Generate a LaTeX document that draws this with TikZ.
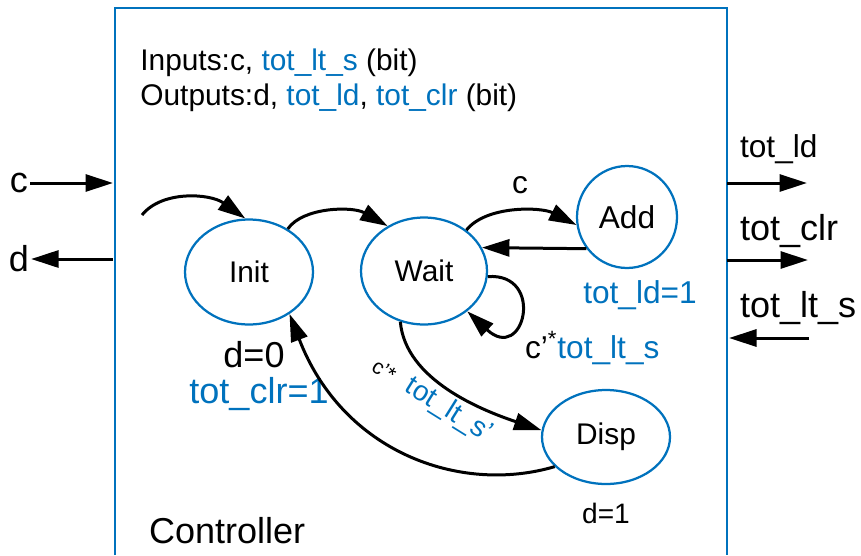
\documentclass[tikz,border=0pt]{standalone}
\usepackage{xcolor}
\usepackage{fontspec}
\setmainfont{Liberation Sans}
\usepackage{tikz}
\usetikzlibrary{shapes.geometric, positioning, arrows.meta}
\definecolor{fsmblue}{RGB}{0,114,189}

\begin{document}
\begin{tikzpicture}[
    x=0.02cm, y=-0.02cm,
    % Define the style for the states
    state/.style={
        ellipse,
        draw=fsmblue,
        line width=0.045cm,
        inner sep=0pt,
        font=\fontsize{17}{20}\selectfont
    },
    % Define style for arrows
    arrow/.style={
        -{Triangle[length=0.55cm, width=0.34cm]},
        line width=0.06cm,
        black
    },
    % Text sizes
    small/.style={font=\fontsize{16}{19}\selectfont, inner sep=1pt},
    note/.style={font=\fontsize{17}{20}\selectfont, inner sep=0pt},
    mid/.style={font=\fontsize{18}{21}\selectfont, inner sep=1pt},
    big/.style={font=\fontsize{20.5}{24}\selectfont, inner sep=1pt},
    frame/.style={draw=fsmblue, line width=0.04cm}
]
\useasboundingbox (0,0) rectangle (861,555);

% Controller frame, open at the bottom
\draw [frame] (115,555) |- (727,8) -- (727,555);

% Signal declarations
\node (inputs) [note, anchor=base west] at (140,70) {Inputs:c, \textcolor{fsmblue}{tot\_lt\_s} (bit)};
\node (outputs) [note, anchor=base west] at (140,105) {Outputs:d, \textcolor{fsmblue}{tot\_ld}, \textcolor{fsmblue}{tot\_clr} (bit)};

% 1. States
\node (init) [state, minimum width=2.56cm, minimum height=2.1cm] at (249,272) {Init};
\node (wait) [state, minimum width=2.52cm, minimum height=2.14cm] at (424,271) {Wait};
\node (add) [state, minimum width=2cm, minimum height=2.04cm, font=\fontsize{18}{21}\selectfont] at (627,217) {Add};
\node (disp) [state, minimum width=2.56cm, minimum height=1.88cm] at (606,437) {Disp};

% 2. State outputs
\node (init_d) [big, anchor=base] at (254,367) {d=0};
\node (init_clr) [big, text=fsmblue, anchor=base] at (259,403) {tot\_clr=1};
\node (add_ld) [mid, text=fsmblue, anchor=base] at (640,303) {tot\_ld=1};
\node (disp_d) [small, anchor=base] at (606,523) {d=1};
\node (title) [big, anchor=base west] at (147,543) {Controller};

% 3. Transitions
\coordinate (entry) at (142,215);
\draw [arrow] (entry) .. controls +(20,-25) and +(-35,-25) .. (init.94);
\draw [arrow] (init.48) .. controls +(15,-22) and +(-35,-20) .. (wait.129);
\draw [arrow] (wait.44) .. controls +(20,-25) and +(-35,-18) .. (add.189);
\draw [arrow] (add.218) -- (wait.22);
\draw [arrow] (wait.355) .. controls +(58,-4) and +(57,53) .. (wait.317);
\draw [arrow] (wait.245) .. controls +(5,58) and +(-60,-20) .. (disp.174);
\draw [arrow] (disp.210) .. controls +(-95,28) and +(53,138) .. (init.314);

% Transition conditions
\node (cond_c) [mid] at (520,185) {c};
\node (cond_stay) [mid, anchor=base west] at (523,358) {c’\textsuperscript{*}\textcolor{fsmblue}{tot\_lt\_s}};
\node (cond_disp) [small, rotate=-32] at (432,400) {{\fontsize{12}{14}\selectfont c’*}\ \ \textcolor{fsmblue}{tot\_lt\_s’}};

% 4. Ports on the left
\coordinate (c_port) at (113,183);
\coordinate (d_port) at (113,259);
\node (c_sig) [big] at (19,183) {c};
\node (d_sig) [big] at (19,259) {d};
\draw [arrow] (c_sig) -- (c_port);
\draw [arrow] (d_port) -- (d_sig);

% 5. Ports on the right
\coordinate (ld_port) at (727,183);
\coordinate (ld_end) at (807,183);
\coordinate (clr_port) at (727,260);
\coordinate (clr_end) at (808,260);
\coordinate (lts_port) at (729,338);
\coordinate (lts_end) at (809,338);
\node (ld_sig) [mid, anchor=base west] at (738,157) {tot\_ld};
\node (clr_sig) [big, anchor=base west] at (738,240) {tot\_clr};
\node (lts_sig) [big, anchor=base west] at (738,317) {tot\_lt\_s};
\draw [arrow] (ld_port) -- (ld_end);
\draw [arrow] (clr_port) -- (clr_end);
\draw [arrow] (lts_end) -- (lts_port);

\end{tikzpicture}
\end{document}
